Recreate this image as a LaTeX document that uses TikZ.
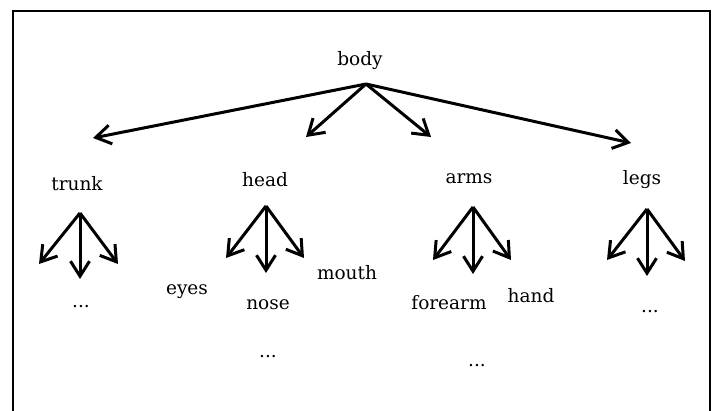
\documentclass[tikz,border=0pt]{standalone}
\usepackage{fontspec}
\setmainfont{DejaVu Serif}
\usetikzlibrary{arrows.meta}
\tikzset{
  part/.style={inner sep=0pt, font=\fontsize{18.5}{22}\selectfont},
  branch/.style={line width=3pt, -{Straight Barb[length=15pt,width=19pt,line width=3pt]}}
}

\begin{document}
\begin{tikzpicture}[x=1pt,y=-1pt]
			%%%%% START %%%%%
			\useasboundingbox (0,0) rectangle (715,410);
			\draw[line width=2.2pt] (13,412) -- (13,11) -- (710,11) -- (710,412);
			
			\node[part] (body) at (360,61) {body};
			\coordinate (body-o) at (366,84);
			\coordinate (to-trunk) at (93,138);
			\coordinate (to-head) at (306,137);
			\coordinate (to-arms) at (431,137);
			\coordinate (to-legs) at (631,143);
			\draw[branch] (body-o) -- (to-trunk);
			\draw[branch] (body-o) -- (to-head);
			\draw[branch] (body-o) -- (to-arms);
			\draw[branch] (body-o) -- (to-legs);
			
			\node[part] (trunk) at (77,184) {trunk};
			\coordinate (trunk-o) at (80,213);
			\coordinate (trunk-l) at (39,264);
			\coordinate (trunk-m) at (80,279);
			\coordinate (trunk-r) at (118,264);
			\draw[branch] (trunk-o) -- (trunk-l);
			\draw[branch] (trunk-o) -- (trunk-m);
			\draw[branch] (trunk-o) -- (trunk-r);
			\node[part] (trunk-dots) at (81,307) {...};
			
			\node[part] (head) at (265,180) {head};
			\coordinate (head-o) at (266,206);
			\coordinate (head-l) at (226,258);
			\coordinate (head-m) at (266,273);
			\coordinate (head-r) at (304,258);
			\draw[branch] (head-o) -- (head-l);
			\draw[branch] (head-o) -- (head-m);
			\draw[branch] (head-o) -- (head-r);
			\node[part] (eyes) at (187,292) {eyes};
			\node[part] (nose) at (268,305) {nose};
			\node[part] (mouth) at (347,273) {mouth};
			\node[part] (head-dots) at (268,357) {...};
			
			\node[part] (arms) at (469,179) {arms};
			\coordinate (arms-o) at (473,207);
			\coordinate (arms-l) at (433,260);
			\coordinate (arms-m) at (473,274);
			\coordinate (arms-r) at (511,260);
			\draw[branch] (arms-o) -- (arms-l);
			\draw[branch] (arms-o) -- (arms-m);
			\draw[branch] (arms-o) -- (arms-r);
			\node[part] (forearm) at (449,303) {forearm};
			\node[part] (hand) at (531,296) {hand};
			\node[part] (arms-dots) at (477,366) {...};
			
			\node[part] (legs) at (642,180) {legs};
			\coordinate (legs-o) at (647,209);
			\coordinate (legs-l) at (607,260);
			\coordinate (legs-m) at (647,276);
			\coordinate (legs-r) at (685,261);
			\draw[branch] (legs-o) -- (legs-l);
			\draw[branch] (legs-o) -- (legs-m);
			\draw[branch] (legs-o) -- (legs-r);
			\node[part] (legs-dots) at (650,312) {...};
			%%%%% END %%%%%
\end{tikzpicture}
\end{document}
